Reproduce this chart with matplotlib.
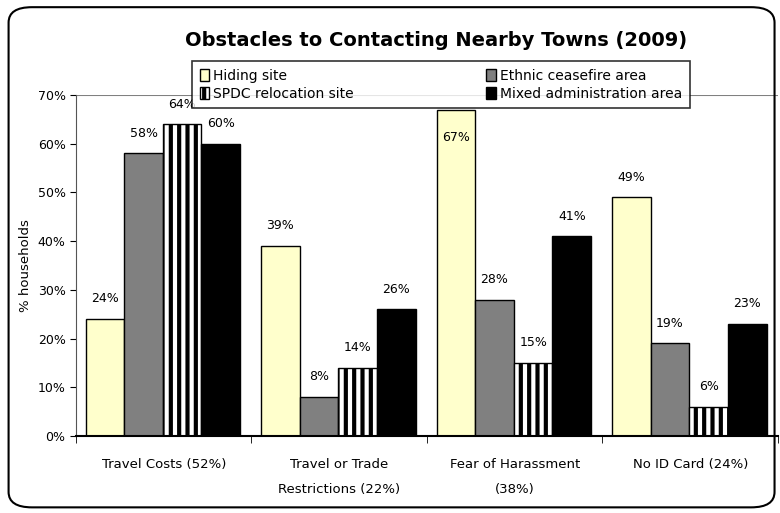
import matplotlib.pyplot as plt
import numpy as np
from matplotlib.patches import FancyBboxPatch

categories = ['Travel Costs (52%)', 'Travel or Trade\nRestrictions (22%)',
              'Fear of Harassment\n(38%)', 'No ID Card (24%)']
series = ['Hiding site', 'Ethnic ceasefire area', 'SPDC relocation site',
          'Mixed administration area']
hiding = [24, 39, 67, 49]
ethnic = [58, 8, 28, 19]
spdc = [64, 14, 15, 6]
mixed = [60, 26, 41, 23]

values = [hiding, ethnic, spdc, mixed]
colors = ['#FFFFCC', '#808080', 'white', 'black']
hatches = [None, None, '||', None]

plt.rcParams['hatch.linewidth'] = 3.0
fig = plt.figure(figsize=(7.8, 5.13), dpi=100)
ax = fig.add_axes([0.0974, 0.150, 0.9, 0.665])

# rounded chart frame
frame = FancyBboxPatch((0.011, 0.011), 0.982, 0.975, boxstyle='round,pad=0,rounding_size=0.03',
                       transform=fig.transFigure, fill=False, ec='black', lw=1.5)
fig.patches.append(frame)

x = np.arange(len(categories))
w = 0.22
offsets = (np.arange(4) - 1.5) * w - 0.005
bars = []
for i in range(4):
    b = ax.bar(x + offsets[i], values[i], w, color=colors[i], edgecolor='black',
               linewidth=1, hatch=hatches[i], label=series[i], zorder=2)
    bars.append(b)
    for xi, v in zip(x + offsets[i], values[i]):
        if v > 65:
            ax.text(xi, v - 7, f'{v}%', ha='center', va='bottom', fontsize=9, zorder=5)
        else:
            ax.text(xi, v + 2.8, f'{v}%', ha='center', va='bottom', fontsize=9, zorder=5,
                    bbox=dict(facecolor='white', edgecolor='none', pad=0.5))

ax.set_xlim(-0.5, 3.5)
ax.set_ylim(0, 70)
ax.set_yticks(np.arange(0, 71, 10))
ax.set_yticklabels([f'{t}%' for t in range(0, 71, 10)], fontsize=9)
ax.set_xticks(np.arange(-0.5, 3.6, 1), minor=True)
ax.set_xticks(x)
ax.set_xticklabels(categories, fontsize=9.5, linespacing=2.2)
ax.tick_params(axis='x', which='major', length=0, pad=16)
ax.tick_params(axis='x', which='minor', length=5, direction='out')
ax.tick_params(axis='y', length=4, direction='out')
ax.set_ylabel('% households', fontsize=9.5, labelpad=4)
ax.axhline(70, color='#808080', lw=1.5, zorder=1)
for s in ['top', 'right']:
    ax.spines[s].set_visible(False)
ax.spines['left'].set_color('#555555')
ax.spines['bottom'].set_linewidth(1.5)

fig.text(0.559, 0.922, 'Obstacles to Contacting Nearby Towns (2009)', ha='center', va='center',
         fontsize=14, fontweight='bold')

handles = [bars[0], bars[2], bars[1], bars[3]]
labels = [series[0], series[2], series[1], series[3]]
leg = fig.legend(handles, labels, ncol=2, loc='upper left', bbox_to_anchor=(0.246, 0.881),
                 fontsize=10, frameon=True, fancybox=False, edgecolor='black',
                 handlelength=0.7, handleheight=0.9, handletextpad=0.3, columnspacing=9.5,
                 borderpad=0.55, labelspacing=0.3, borderaxespad=0, shadow=False)
leg.get_frame().set_linewidth(1.2)
leg.set_zorder(10)

plt.savefig('out.png', dpi=100)
plt.close()
